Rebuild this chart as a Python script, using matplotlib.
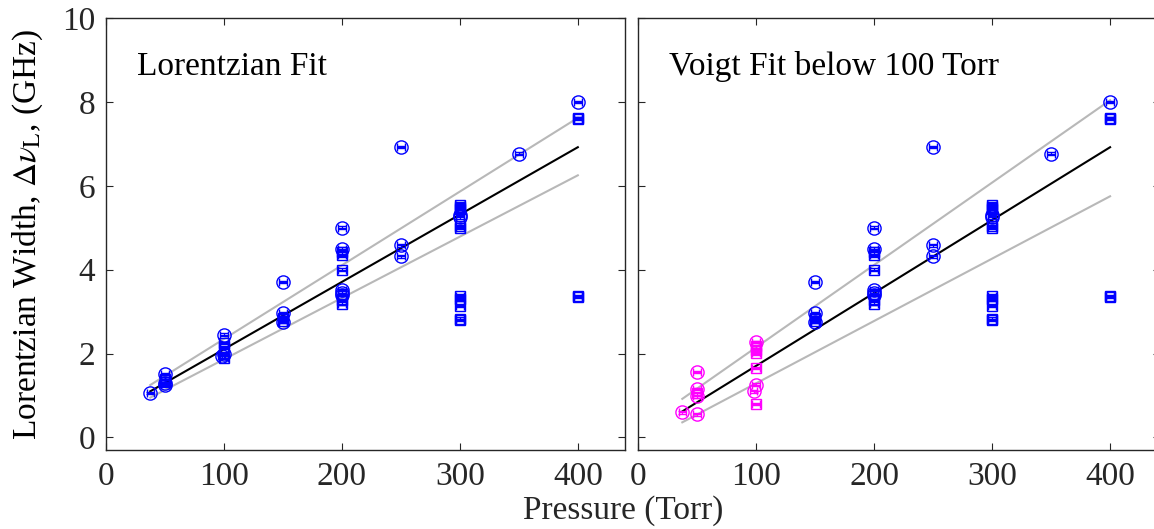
#!/usr/bin/env python3
"""Lorentzian width vs pressure: Lorentzian fit and Voigt fit panels."""

import matplotlib
matplotlib.use("Agg")
import matplotlib.pyplot as plt

plt.rcParams["font.family"] = ["Liberation Serif", "DejaVu Serif"]
plt.rcParams["mathtext.fontset"] = "stix"

# ---- data (pressure in Torr, width in GHz) ----
# Lorentzian fit (all blue)
lor_circ_x = [37.5, 50, 50, 50, 98, 100, 100, 150, 150, 150, 200, 200, 200, 200, 200,
              250, 250, 250, 300, 300, 350, 400]
lor_circ_y = [1.06, 1.51, 1.30, 1.25, 1.93, 2.45, 2.00, 3.71, 2.97, 2.75, 5.00, 4.50, 3.52, 3.45, 3.40,
              6.92, 4.58, 4.32, 5.31, 5.25, 6.77, 8.00]
lor_sq_x = [50, 50, 100, 100, 100, 150, 150, 200, 200, 200, 200, 200,
            300, 300, 300, 300, 300, 300, 300, 300, 300, 300, 400, 400, 400, 400]
lor_sq_y = [1.40, 1.33, 2.25, 2.15, 1.90, 2.85, 2.78, 4.41, 4.35, 4.00, 3.28, 3.19,
            5.55, 5.50, 5.45, 5.04, 5.00, 3.37, 3.30, 3.13, 2.83, 2.80, 7.62, 7.60, 3.37, 3.35]

# Voigt fit: magenta points up to 100 Torr, blue above
voigt_lo_circ_x = [37.5, 50, 50, 50, 50, 100, 100, 98]
voigt_lo_circ_y = [0.60, 1.56, 1.15, 0.98, 0.55, 2.28, 1.26, 1.10]
voigt_lo_sq_x = [50, 100, 100, 100, 100, 100]
voigt_lo_sq_y = [1.05, 2.17, 2.08, 2.01, 1.66, 0.80]

voigt_hi_circ_x = [x for x in lor_circ_x if x >= 150]
voigt_hi_circ_y = [y for x, y in zip(lor_circ_x, lor_circ_y) if x >= 150]
voigt_hi_sq_x = [x for x in lor_sq_x if x >= 150]
voigt_hi_sq_y = [y for x, y in zip(lor_sq_x, lor_sq_y) if x >= 150]

# fit lines and confidence bounds (end points)
fit_x = [37.5, 400]
lor_fit_y = [1.10, 6.92]
lor_upper_y = [1.25, 7.62]
lor_lower_y = [0.95, 6.25]
voigt_fit_y = [0.62, 6.92]
voigt_upper_y = [0.92, 8.04]
voigt_lower_y = [0.36, 5.75]

X_ERR = 3.2
Y_ERR = 0.03
BLUE = "#0000ff"
MAGENTA = "#ff00ff"
GRAY = "#b8b8b8"
FS = 24


def plot_points(ax, x, y, marker, color, ms):
    ax.errorbar(x, y, xerr=X_ERR, yerr=Y_ERR, fmt=marker, ms=ms, mfc="none",
                mec=color, mew=1.0, ecolor=color, elinewidth=0.9,
                capsize=3.0, capthick=0.9, zorder=3)


def style_axes(ax, show_ylabels):
    ax.set_xlim(0, 440)
    ax.set_ylim(-0.3, 10)
    ax.set_xticks([0, 100, 200, 300, 400])
    ax.set_yticks([0, 2, 4, 6, 8, 10])
    ax.tick_params(direction="in", top=True, right=True, length=5, width=0.8,
                   labelsize=FS, colors="#262626", pad=8)
    if not show_ylabels:
        ax.set_yticklabels([])
    for s in ax.spines.values():
        s.set_color("#262626")
        s.set_linewidth(1.0)


fig = plt.figure(figsize=(11.54, 5.29), dpi=100)
ax1 = fig.add_axes([0.0919, 0.1493, 0.4497, 0.8166])
ax2 = fig.add_axes([0.5529, 0.1493, 0.4520, 0.8166])

# left panel
ax1.plot(fit_x, lor_upper_y, color=GRAY, lw=1.5, zorder=1)
ax1.plot(fit_x, lor_lower_y, color=GRAY, lw=1.5, zorder=1)
ax1.plot(fit_x, lor_fit_y, color="black", lw=1.5, zorder=2)
plot_points(ax1, lor_circ_x, lor_circ_y, "o", BLUE, 9.5)
plot_points(ax1, lor_sq_x, lor_sq_y, "s", BLUE, 7.5)
ax1.text(26, 8.85, "Lorentzian Fit", fontsize=FS, va="center", ha="left")
style_axes(ax1, True)
ax1.set_ylabel(r"Lorentzian Width, $\Delta\nu_{\rm L}$, (GHz)", fontsize=FS, labelpad=12)

# right panel
ax2.plot(fit_x, voigt_upper_y, color=GRAY, lw=1.5, zorder=1)
ax2.plot(fit_x, voigt_lower_y, color=GRAY, lw=1.5, zorder=1)
ax2.plot(fit_x, voigt_fit_y, color="black", lw=1.5, zorder=2)
plot_points(ax2, voigt_hi_circ_x, voigt_hi_circ_y, "o", BLUE, 9.5)
plot_points(ax2, voigt_hi_sq_x, voigt_hi_sq_y, "s", BLUE, 7.5)
plot_points(ax2, voigt_lo_circ_x, voigt_lo_circ_y, "o", MAGENTA, 9.5)
plot_points(ax2, voigt_lo_sq_x, voigt_lo_sq_y, "s", MAGENTA, 7.5)
ax2.text(26, 8.85, "Voigt Fit below 100 Torr", fontsize=FS, va="center", ha="left")
style_axes(ax2, False)
ax2.set_xlim(0, 442)

fig.text(0.54, 0.035, "Pressure (Torr)", fontsize=FS, ha="center", va="center", color="#262626")

fig.savefig("out.png", dpi=100)
